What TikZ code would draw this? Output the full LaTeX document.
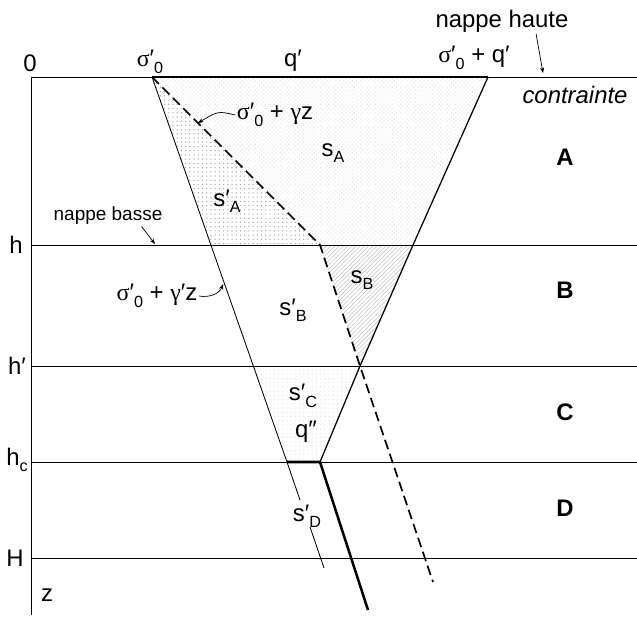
\documentclass[tikz,border=0pt]{standalone}
\usepackage{fontspec}
\setmainfont{Liberation Sans}
\newfontfamily\grk{Liberation Serif}
\usetikzlibrary{arrows.meta,patterns,calc}
\newcommand{\sig}{{\grk σ}}
\newcommand{\gam}{{\grk γ}}
\newcommand{\tsub}[1]{\raisebox{-0.5ex}{\fontsize{11.5}{12}\selectfont #1}}

\tikzset{
  lbl/.style={font=\fontsize{17}{20}\selectfont, inner sep=1pt},
  note/.style={font=\fontsize{13.5}{16}\selectfont, inner sep=1pt},
  zone/.style={font=\fontsize{17}{20}\selectfont\bfseries, inner sep=1pt},
  level/.style={line width=0.6pt},
  curve/.style={line width=0.6pt},
  heavy/.style={line width=1.8pt},
  dashline/.style={line width=1.2pt, dash pattern=on 7pt off 3.5pt},
  pointer/.style={line width=0.5pt, -{Stealth[length=4pt,width=3pt]}}
}

\begin{document}
\begin{tikzpicture}[x=0.025cm,y=-0.025cm]
\useasboundingbox (0,0) rectangle (637,619);
% key points
\coordinate (o) at (31,77);
\coordinate (e) at (637,77);
\coordinate (s0) at (152,77);
\coordinate (sq) at (488,77);
\coordinate (ta) at (211,245);
\coordinate (da) at (320,245);
\coordinate (ra) at (413,245);
\coordinate (tb) at (253,366);
\coordinate (x) at (360,366);
\coordinate (tc) at (287,462);
\coordinate (qc) at (320,462);

% shaded areas
\fill[pattern=dots, pattern color=gray!70] (s0) -- (da) -- (ta) -- cycle;
\fill[pattern=crosshatch dots, pattern color=gray!20] (s0) -- (sq) -- (ra) -- (da) -- cycle;
\fill[pattern=north east lines, pattern color=gray!45] (da) -- (ra) -- (x) -- cycle;
\fill[pattern=dots, pattern color=gray!20] (tb) -- (x) -- (qc) -- (tc) -- cycle;

% axes and levels
\draw[level] (31,615) -- (o) -- (e);
\foreach \y in {245,366,462,558}
  \draw[level] (31,\y) -- (637,\y);

% stress lines
\draw[heavy] (s0) -- (sq);
\draw[curve] (s0) -- (tc) -- (300,500);
\draw[curve] (310,527) -- (324,568);
\draw[dashline] (s0) -- (da) -- (x) -- (433,582);
\draw[curve, line width=0.9pt] (sq) -- (ra) -- (x) -- (qc);
\draw[heavy] (tc) -- (qc) -- (368,610);

% labels on the axes
\node[lbl] (l0) at (30,63) {0};
\node[lbl] (lh) at (16,245) {h};
\node[lbl] (lhp) at (17,366) {h′};
\node[lbl] (lhc) at (17,460) {h\tsub{c}};
\node[lbl] (lH) at (15,558) {H};
\node[lbl] (lz) at (47,595) {z};
\node[lbl] (ls0) at (150,62) {\sig′\tsub{0}};
\node[lbl] (lq) at (293,61) {q′};
\node[lbl] (lsq) at (474,58) {\sig′\tsub{0} + q′};
\node[lbl] (nh) at (502,21) {nappe haute};
\node[lbl, font=\fontsize{17}{20}\selectfont\itshape] (lc) at (575,95) {contrainte};
\node[note] (nb) at (108,216) {nappe basse};

% areas
\node[lbl] (lsa) at (333,153) {s\tsub{A}};
\node[lbl] (lspa) at (227,201) {s′\tsub{A}};
\node[lbl] (lsb) at (362,280) {s\tsub{B}};
\node[lbl] (lspb) at (293,310) {s′\tsub{B}};
\node[lbl] (lspc) at (303,396) {s′\tsub{C}};
\node[lbl] (lqq) at (306,432) {q″};
\node[lbl] (lspd) at (307,516) {s′\tsub{D}};

% zones
\node[zone] (za) at (565,157) {A};
\node[zone] (zb) at (565,290) {B};
\node[zone] (zc) at (565,412) {C};
\node[zone] (zd) at (565,508) {D};

% leaders
\node[lbl] (lgz) at (275,115) {\sig′\tsub{0} + \gam z};
\node[lbl] (lgpz) at (157,296) {\sig′\tsub{0} + \gam′z};
\coordinate (dz) at (198,123);
\coordinate (tz) at (223,284);
\coordinate (nhtip) at (543,73);
\coordinate (nbtip) at (155,244);
\draw[pointer] (lgz.west) .. controls (218,111) .. (dz);
\draw[pointer] (lgpz.east) to[out=-10,in=250] (tz);
\draw[pointer] ($(nh.south)!0.5!(nh.south east)$) -- (nhtip);
\draw[pointer] ($(nb.south)!0.6!(nb.south east)$) -- (nbtip);
\end{tikzpicture}
\end{document}
